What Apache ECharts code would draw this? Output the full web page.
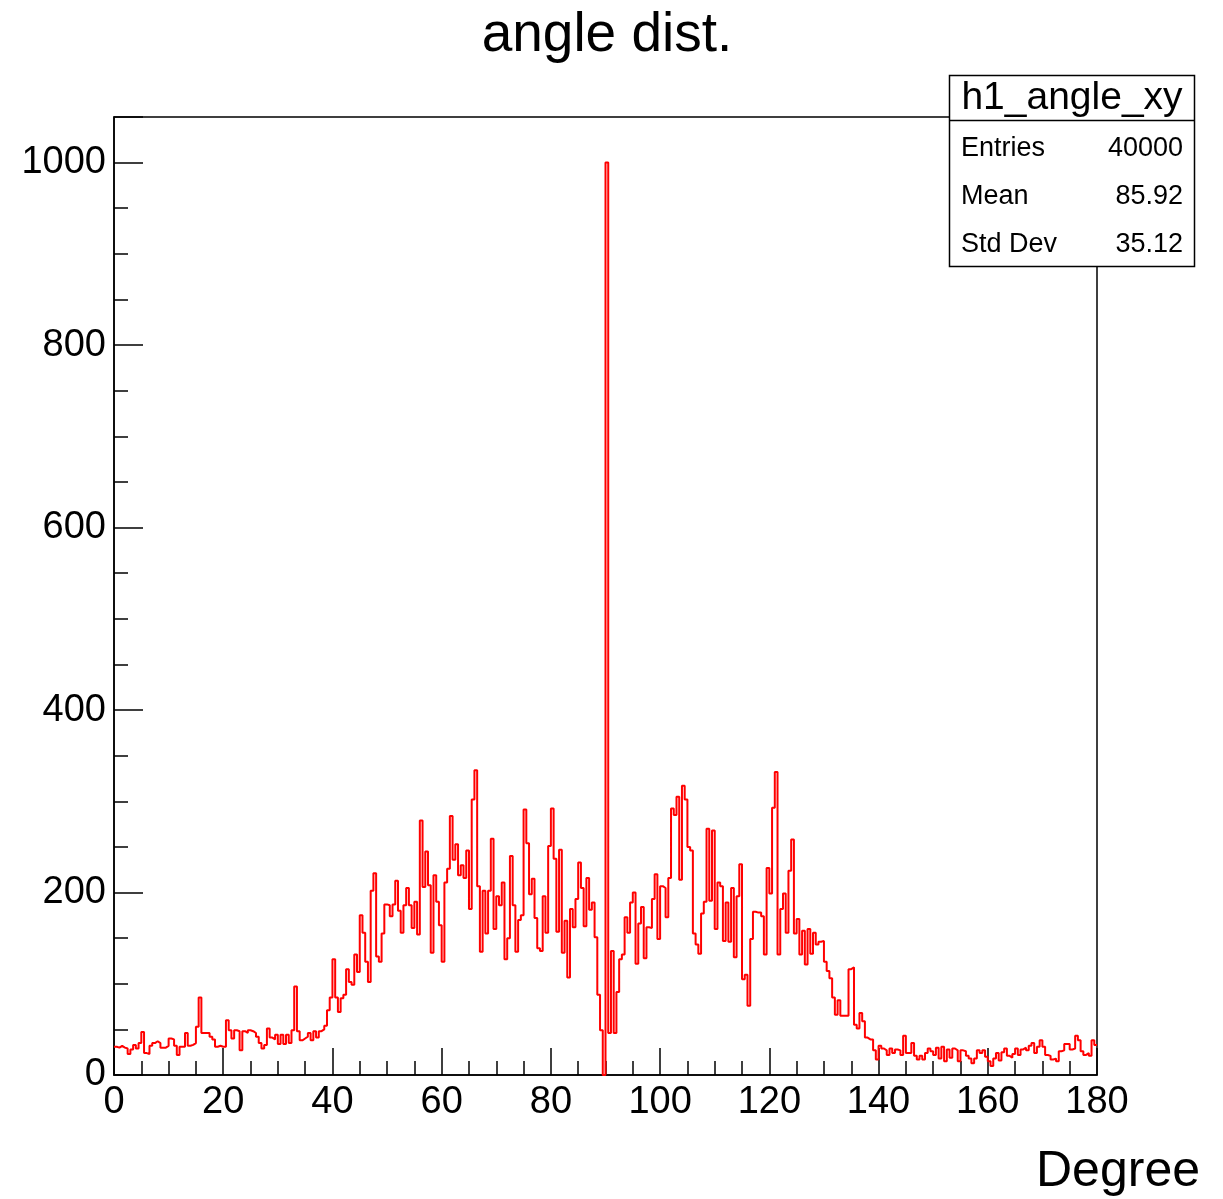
<!DOCTYPE html>
<html>
<head>
<meta charset="utf-8">
<script src="https://cdn.jsdelivr.net/npm/echarts@6/dist/echarts.min.js"></script>
<style>
html,body{margin:0;padding:0;background:#fff;}
#chart{width:1223px;height:1199px;}
</style>
</head>
<body>
<div id="chart"></div>
<script>
// ---- Data (histogram h1_angle_xy, 360 bins of 0.5 degree from 0 to 180) ----
const xMin = 0;
const xMax = 180;
const binWidth = 0.5;
const counts = [
  31, 30, 32, 30, 29, 23, 28, 33, 29, 35,
  47, 24, 23, 32, 35, 37, 35, 30, 30, 32,
  40, 39, 32, 22, 31, 31, 46, 32, 33, 35,
  53, 85, 46, 46, 46, 42, 39, 31, 32, 31,
  31, 60, 49, 40, 49, 48, 27, 48, 46, 49,
  48, 46, 42, 35, 29, 33, 51, 41, 39, 44,
  34, 44, 34, 44, 35, 49, 97, 48, 38, 40,
  42, 46, 38, 48, 41, 48, 50, 54, 71, 85,
  127, 85, 69, 84, 88, 116, 102, 99, 132, 113,
  175, 156, 124, 102, 202, 221, 130, 124, 155, 187,
  186, 174, 187, 213, 180, 156, 186, 205, 186, 161,
  190, 154, 279, 206, 245, 208, 134, 219, 190, 164,
  124, 211, 226, 284, 236, 253, 219, 230, 216, 246,
  182, 302, 334, 207, 135, 202, 155, 202, 259, 160,
  196, 186, 211, 127, 150, 240, 186, 135, 170, 175,
  291, 254, 198, 215, 172, 139, 136, 196, 156, 251,
  292, 237, 157, 247, 134, 169, 107, 182, 162, 193,
  233, 205, 163, 216, 181, 189, 151, 88, 49, 0,
  1000, 46, 136, 46, 91, 127, 132, 173, 156, 189,
  200, 122, 166, 184, 128, 162, 161, 193, 220, 149,
  207, 205, 173, 216, 292, 285, 305, 214, 317, 302,
  250, 246, 155, 143, 133, 177, 190, 270, 191, 268,
  160, 211, 207, 147, 189, 146, 205, 129, 196, 231,
  105, 110, 76, 149, 179, 178, 178, 174, 132, 227,
  199, 293, 332, 132, 182, 199, 156, 224, 258, 155,
  171, 132, 158, 121, 160, 133, 156, 143, 146, 147,
  124, 114, 106, 85, 66, 82, 65, 65, 65, 116,
  118, 55, 51, 68, 59, 41, 39, 39, 27, 17,
  32, 29, 27, 22, 29, 24, 28, 27, 22, 43,
  24, 24, 35, 21, 17, 21, 17, 24, 29, 26,
  22, 30, 18, 31, 15, 28, 19, 29, 27, 15,
  27, 26, 21, 18, 13, 18, 27, 24, 27, 20,
  15, 10, 18, 24, 16, 25, 29, 21, 19, 23,
  29, 22, 28, 30, 27, 32, 35, 24, 31, 38,
  31, 22, 21, 17, 18, 15, 26, 27, 34, 34,
  28, 29, 43, 38, 26, 22, 24, 21, 38, 33
];
const yMin = 0;
const yMax = 1050;
const yMajor = 200;
const yMinor = 50;
const xMajor = 20;

const titleText = 'angle dist.';
const xAxisTitle = 'Degree';
const statsName = 'h1_angle_xy';
const statsLabels = ['Entries', 'Mean', 'Std Dev'];
const statsValues = ['40000', '85.92', '35.12'];

// ---- Build step data from bin edges ----
const stepData = counts.map((c, i) => [xMin + i * binWidth, c]);
stepData.push([xMax, counts[counts.length - 1]]);

const FONT = '"Liberation Sans", Arial, Helvetica, sans-serif';
const chart = echarts.init(document.getElementById('chart'), null, {renderer: 'canvas'});

const gridL = 114, gridT = 117, gridW = 983, gridH = 958;

const graphics = [
  {type: 'text', x: 607, y: 36, z: 10,
   style: {text: titleText, font: '55px ' + FONT, fill: '#000', textAlign: 'center', textVerticalAlign: 'middle'}},
  {type: 'text', right: 23, top: 1147, z: 10,
   style: {text: xAxisTitle, font: '50px ' + FONT, fill: '#000'}},
  {type: 'rect', shape: {x: 949.5, y: 75.5, width: 245, height: 191}, z: 20,
   style: {fill: '#fff', stroke: '#000', lineWidth: 1.5}},
  {type: 'line', shape: {x1: 949.5, y1: 120.5, x2: 1194.5, y2: 120.5}, z: 21,
   style: {stroke: '#000', lineWidth: 1.5}},
  {type: 'text', x: 1072, y: 98, z: 22,
   style: {text: statsName, font: '39px ' + FONT, fill: '#000', textAlign: 'center', textVerticalAlign: 'middle'}}
];
statsLabels.forEach((lab, i) => {
  const y = 149 + i * 48;
  graphics.push({type: 'text', x: 961, y: y, z: 22,
    style: {text: lab, font: '27px ' + FONT, fill: '#000', textAlign: 'left', textVerticalAlign: 'middle'}});
  graphics.push({type: 'text', x: 1183, y: y, z: 22,
    style: {text: statsValues[i], font: '27px ' + FONT, fill: '#000', textAlign: 'right', textVerticalAlign: 'middle'}});
});

const option = {
  animation: false,
  backgroundColor: '#fff',
  grid: {left: gridL, top: gridT, width: gridW, height: gridH, show: true,
         borderColor: '#000', borderWidth: 1.5, backgroundColor: 'transparent'},
  xAxis: {
    type: 'value', min: xMin, max: xMax, interval: xMajor,
    axisLine: {show: true, onZero: false, lineStyle: {color: '#000', width: 1.5}},
    axisTick: {show: true, inside: true, length: 27, lineStyle: {color: '#000', width: 1.5}},
    minorTick: {show: true, splitNumber: 4, length: 14, lineStyle: {color: '#000', width: 1.5}},
    axisLabel: {show: true, margin: 9, fontSize: 38, color: '#000', fontFamily: FONT},
    splitLine: {show: false}, minorSplitLine: {show: false}
  },
  yAxis: [
    {
      type: 'value', min: yMin, max: yMax, interval: yMajor,
      axisLine: {show: true, lineStyle: {color: '#000', width: 1.5}},
      axisTick: {show: true, inside: true, length: 29, lineStyle: {color: '#000', width: 1.5}},
      axisLabel: {show: true, margin: 8, fontSize: 38, color: '#000', fontFamily: FONT,
                  formatter: v => (v % yMajor === 0 ? String(v) : '')},
      splitLine: {show: false}
    },
    {
      type: 'value', min: yMin, max: yMax, interval: yMinor, position: 'left',
      axisLine: {show: false},
      axisTick: {show: true, inside: true, length: 14, lineStyle: {color: '#000', width: 1.5}},
      axisLabel: {show: false},
      splitLine: {show: false}
    }
  ],
  series: [{
    type: 'line', step: 'end', data: stepData, yAxisIndex: 0,
    symbol: 'none', showSymbol: false,
    lineStyle: {color: '#ff0000', width: 2},
    z: 5
  }],
  graphic: graphics
};
chart.setOption(option);
</script>
</body>
</html>
